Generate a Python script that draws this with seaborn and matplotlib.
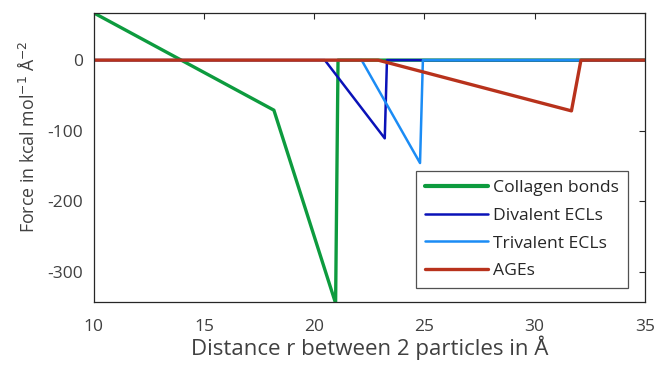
import numpy as np
import pandas as pd
import matplotlib
matplotlib.use("Agg")
import matplotlib.pyplot as plt
import seaborn as sns

# Data
series_names = ["Collagen bonds", "Divalent ECLs", "Trivalent ECLs", "AGEs"]
collagen_r = [10.0, 18.17, 20.97, 21.08, 35.0]
collagen_f = [67.0, -71.0, -345.0, 0.0, 0.0]
divalent_r = [10.0, 20.48, 23.2, 23.3, 35.0]
divalent_f = [0.0, 0.0, -111.0, 0.0, 0.0]
trivalent_r = [10.0, 22.15, 24.8, 24.93, 35.0]
trivalent_f = [0.0, 0.0, -146.0, 0.0, 0.0]
ages_r = [10.0, 22.9, 31.67, 32.1, 35.0]
ages_f = [0.0, 0.0, -72.0, 0.0, 0.0]
x_ticks = [10, 15, 20, 25, 30, 35]
y_ticks = [-300, -200, -100, 0]

colors = ["#0d9b3e", "#0a12b8", "#1b8cf5", "#b8321c"]
widths = [2.4, 1.8, 1.8, 2.4]

sns.set_style("white")
plt.rcParams["font.family"] = ["Open Sans", "DejaVu Sans"]
plt.rcParams["axes.unicode_minus"] = False

fig = plt.figure(figsize=(6.56, 3.69), dpi=100)
ax = fig.add_axes([0.143, 0.182, 0.840, 0.783])

rs = [collagen_r, divalent_r, trivalent_r, ages_r]
fs = [collagen_f, divalent_f, trivalent_f, ages_f]
for name, r, f, c, w in zip(series_names, rs, fs, colors, widths):
    df = pd.DataFrame({"r": r, "F": f})
    sns.lineplot(data=df, x="r", y="F", sort=False, estimator=None,
                 color=c, linewidth=w, label=name, ax=ax)

ax.set_xlim(10, 35)
ax.set_ylim(-343, 67)
ax.set_xticks(x_ticks)
ax.set_yticks(y_ticks)
ax.tick_params(direction="in", length=4, width=0.8, colors="#262626",
               labelcolor="#404040", labelsize=12.5, top=True, right=True)
ax.tick_params(axis="x", pad=12)
ax.tick_params(axis="y", pad=8)
for s in ax.spines.values():
    s.set_color("#262626")
    s.set_linewidth(0.9)
    s.set_visible(True)

ax.set_xlabel("Distance r between 2 particles in Å", fontsize=16,
              color="#404040", labelpad=1)
ax.set_ylabel("Force in kcal mol$^{-1}$ Å$^{-2}$", fontsize=12.8,
              color="#404040")
ax.yaxis.set_label_coords(-0.102, 0.571)

leg = ax.legend(loc="lower right", bbox_to_anchor=(0.969, 0.048),
                borderaxespad=0, fontsize=12.6, frameon=True, fancybox=False,
                edgecolor="#262626", handlelength=3.6, borderpad=0.5,
                labelspacing=0.65, handletextpad=0.3)
leg.get_frame().set_linewidth(0.9)
for t in leg.get_texts():
    t.set_color("#262626")
lw_leg = [3.0, 1.8, 1.8, 2.4]
for h, w in zip(leg.get_lines(), lw_leg):
    h.set_linewidth(w)

fig.savefig("out.png", dpi=100)
